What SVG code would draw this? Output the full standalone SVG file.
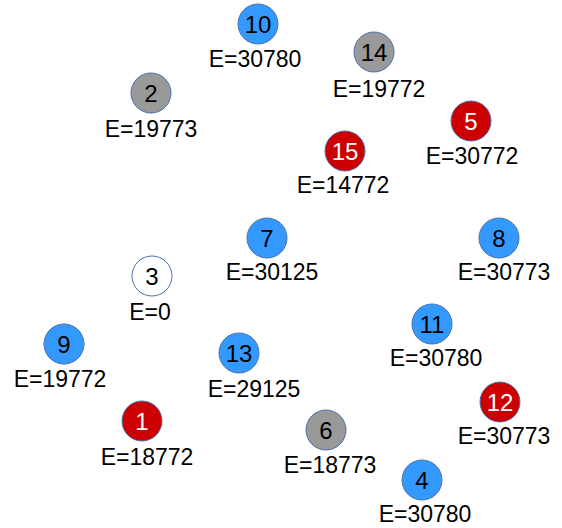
<svg xmlns="http://www.w3.org/2000/svg" width="562" height="528" viewBox="0 0 562 528">
  <style>
    .n { stroke: #4a72b0; stroke-width: 1; }
    .blue { fill: #3399ff; }
    .gray { fill: #999999; }
    .red { fill: #cc0000; }
    .white { fill: #ffffff; }
    .num { font-family: "Liberation Sans", Arial, sans-serif; font-size: 24px; text-anchor: middle; fill: #000000; }
    .num.light { fill: #ffffff; }
    .lab { font-family: "Liberation Sans", Arial, sans-serif; font-size: 23px; text-anchor: middle; fill: #000000; }
  </style>
  <rect width="562" height="528" fill="#ffffff"/>
  <g id="connectors"></g>
  <g id="node-10">
    <circle class="n blue" cx="258" cy="24" r="20"/>
    <text class="num" x="258" y="32.5">10</text>
    <text class="lab" x="255" y="67">E=30780</text>
  </g>
  <g id="node-14">
    <circle class="n gray" cx="374" cy="52" r="20"/>
    <text class="num" x="374" y="60.5">14</text>
    <text class="lab" x="379" y="97">E=19772</text>
  </g>
  <g id="node-2">
    <circle class="n gray" cx="151" cy="93" r="20"/>
    <text class="num" x="151" y="101.5">2</text>
    <text class="lab" x="151" y="137">E=19773</text>
  </g>
  <g id="node-5">
    <circle class="n red" cx="471" cy="121" r="20"/>
    <text class="num light" x="471" y="129.5">5</text>
    <text class="lab" x="472" y="164">E=30772</text>
  </g>
  <g id="node-15">
    <circle class="n red" cx="345" cy="151" r="20"/>
    <text class="num light" x="345" y="159.5">15</text>
    <text class="lab" x="343" y="193">E=14772</text>
  </g>
  <g id="node-7">
    <circle class="n blue" cx="267" cy="238" r="20"/>
    <text class="num" x="267" y="246.5">7</text>
    <text class="lab" x="272" y="280">E=30125</text>
  </g>
  <g id="node-8">
    <circle class="n blue" cx="499" cy="238" r="20"/>
    <text class="num" x="499" y="246.5">8</text>
    <text class="lab" x="504" y="280">E=30773</text>
  </g>
  <g id="node-3">
    <circle class="n white" cx="152" cy="276" r="20"/>
    <text class="num" x="152" y="284.5">3</text>
    <text class="lab" x="150" y="320">E=0</text>
  </g>
  <g id="node-9">
    <circle class="n blue" cx="64" cy="344" r="20"/>
    <text class="num" x="64" y="352.5">9</text>
    <text class="lab" x="60" y="387">E=19772</text>
  </g>
  <g id="node-13">
    <circle class="n blue" cx="239" cy="353" r="20"/>
    <text class="num" x="239" y="361.5">13</text>
    <text class="lab" x="254" y="397">E=29125</text>
  </g>
  <g id="node-11">
    <circle class="n blue" cx="432" cy="324" r="20"/>
    <text class="num" x="432" y="332.5">11</text>
    <text class="lab" x="436" y="366">E=30780</text>
  </g>
  <g id="node-12">
    <circle class="n red" cx="500" cy="402" r="20"/>
    <text class="num light" x="500" y="410.5">12</text>
    <text class="lab" x="504" y="444">E=30773</text>
  </g>
  <g id="node-1">
    <circle class="n red" cx="142" cy="421" r="20"/>
    <text class="num light" x="142" y="429.5">1</text>
    <text class="lab" x="147" y="465">E=18772</text>
  </g>
  <g id="node-6">
    <circle class="n gray" cx="326" cy="430" r="20"/>
    <text class="num" x="326" y="438.5">6</text>
    <text class="lab" x="330" y="473">E=18773</text>
  </g>
  <g id="node-4">
    <circle class="n blue" cx="422" cy="480" r="20"/>
    <text class="num" x="422" y="488.5">4</text>
    <text class="lab" x="425" y="522">E=30780</text>
  </g>
</svg>
